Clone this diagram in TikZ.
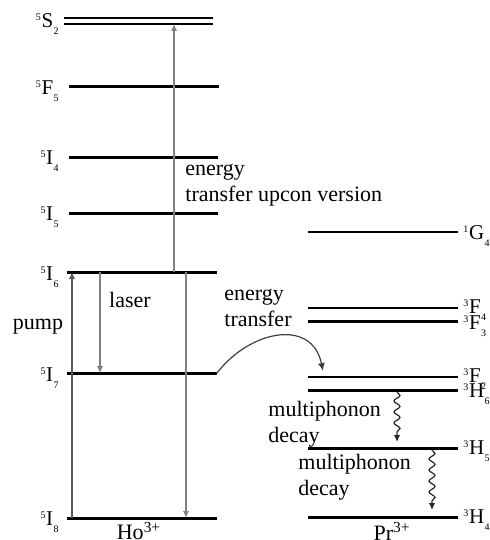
\documentclass[tikz,border=0pt]{standalone}
\usepackage{fontspec}
\setmainfont{Liberation Serif}
\usetikzlibrary{arrows.meta,decorations.pathmorphing}

% term symbol: small raised multiplicity, letter, lowered J
\newcommand{\lev}[3]{\raisebox{3.6pt}{\fontsize{5}{5}\selectfont #1}\kern0.3pt#2\kern0.2pt\raisebox{-3.2pt}{\fontsize{5}{5}\selectfont #3}}

\begin{document}
\begin{tikzpicture}[x=0.5pt,y=-0.5pt,
    level/.style={line width=1.5pt},
    thinlevel/.style={line width=1pt},
    lbl/.style={font=\fontsize{11}{13}\selectfont, inner sep=1pt},
    term/.style={font=\fontsize{10.5}{12}\selectfont, inner sep=0pt},
    trans/.style={draw=black!50, line width=0.8pt, -{Latex[length=3.5pt,width=3.2pt]}},
    phonon/.style={draw=black!85, line width=0.6pt, decorate,
        decoration={snake, amplitude=1.5pt, segment length=5.5pt, post length=3pt},
        -{Latex[length=3.5pt,width=3.2pt]}}]
    \useasboundingbox (0,0) rectangle (490,540);

    % Ho3+ levels
    \draw[line width=1.3pt] (64,18) coordinate (S2top) -- (213,18);
    \draw[line width=1.3pt] (64,24) coordinate (S2) -- (213,24);
    \draw[level] (69,87) coordinate (F5) -- (219,87);
    \draw[level] (69,157) coordinate (I4) -- (218,157);
    \draw[level] (69,213) coordinate (I5) -- (218,213);
    \draw[level] (67,272) coordinate (I6) -- (217,272);
    \draw[level] (67,373) coordinate (I7) -- (217,373) coordinate (I7end);
    \draw[level] (67,518) coordinate (I8) -- (217,518);

    \node[term, anchor=east] (lS2) at (59,24) {\lev{5}{S}{2}};
    \node[term, anchor=east] (lF5) at (59,91) {\lev{5}{F}{5}};
    \node[term, anchor=east] (lI4) at (59,161) {\lev{5}{I}{4}};
    \node[term, anchor=east] (lI5) at (59,217) {\lev{5}{I}{5}};
    \node[term, anchor=east] (lI6) at (59,277) {\lev{5}{I}{6}};
    \node[term, anchor=east] (lI7) at (59,378) {\lev{5}{I}{7}};
    \node[term, anchor=east] (lI8) at (59,522) {\lev{5}{I}{8}};
    \node[lbl] (ho) at (139,531) {Ho\textsuperscript{3+}};

    % Pr3+ levels
    \draw[thinlevel] (308,232) coordinate (G4) -- (458,232);
    \draw[thinlevel] (308,308) coordinate (F4) -- (458,308);
    \draw[level] (308,321) coordinate (F3) -- (458,321);
    \draw[thinlevel] (308,377) coordinate (F2) -- (458,377) ;
    \draw[level] (308,390) coordinate (H6) -- (458,390);
    \draw[level] (308,448) coordinate (H5) -- (458,448);
    \draw[level] (308,517) coordinate (H4) -- (458,517);

    \node[term, anchor=west] (lG4) at (463,236) {\lev{1}{G}{4}};
    \node[term, anchor=west] (lF4) at (463,310) {\lev{3}{F}{4}};
    \node[term, anchor=west] (lF3) at (463,326) {\lev{3}{F}{3}};
    \node[term, anchor=west] (lF2) at (463,379) {\lev{3}{F}{2}};
    \node[term, anchor=west] (lH6) at (463,394) {\lev{3}{H}{6}};
    \node[term, anchor=west] (lH5) at (463,451) {\lev{3}{H}{5}};
    \node[term, anchor=west] (lH4) at (463,520) {\lev{3}{H}{4}};
    \node[lbl] (pr) at (392,531) {Pr\textsuperscript{3+}};

    % Transitions in Ho3+
    \coordinate (pumpx) at (72,0);
    \coordinate (laserx) at (100,0);
    \coordinate (etux) at (174,0);
    \coordinate (downx) at (186,0);
    \draw[trans, draw=black!65] (pumpx |- I8) -- (pumpx |- I6);
    \draw[trans] (laserx |- I6) -- (laserx |- I7);
    \draw[trans] (etux |- I6) -- (etux |- S2);
    \draw[trans, line width=1pt] (downx |- I6) -- (downx |- I8);

    \node[lbl] (pump) at (38,327) {pump};
    \node[lbl] (laser) at (130,300) {laser};
    \node[lbl, anchor=west, align=left] (etu) at (183,185) {energy\\transfer upcon version};

    % Energy transfer Ho -> Pr
    \coordinate (ettip) at (323,371);
    \draw[draw=black!75, line width=0.6pt, -{Latex[length=4pt,width=3.5pt]}]
        (I7end) .. controls (250,330) and (312,318) .. (ettip);
    \node[lbl, anchor=west, align=left] (et) at (222,308) {energy\\transfer};

    % Multiphonon decays in Pr3+
    \coordinate (mp1) at (397,0);
    \coordinate (mp2) at (432,0);
    \draw[phonon] ([yshift=-1]mp1 |- H6) -- ([yshift=3]mp1 |- H5);
    \draw[phonon] ([yshift=-1]mp2 |- H5) -- ([yshift=3.5]mp2 |- H4);
    \node[lbl, anchor=west, align=left] (mpd1) at (266,424) {multiphonon\\decay};
    \node[lbl, anchor=west, align=left] (mpd2) at (296,477) {multiphonon\\decay};
\end{tikzpicture}
\end{document}
